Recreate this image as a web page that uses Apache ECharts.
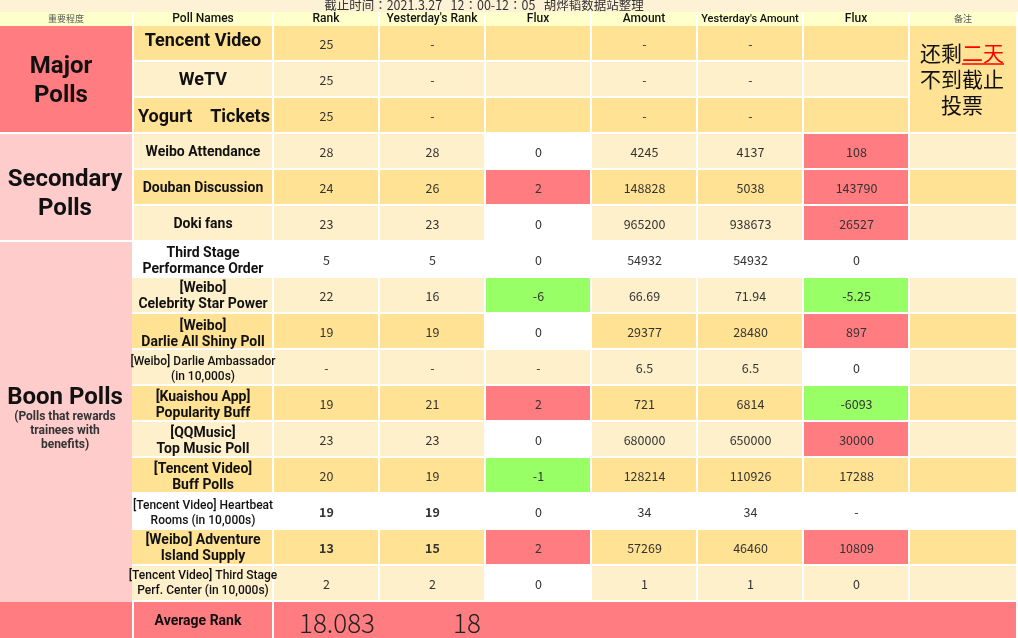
<!DOCTYPE html>
<html>
<head>
<meta charset="utf-8">
<style>
  html, body { margin: 0; padding: 0; background: #fff; }
  #chart { width: 1018px; height: 638px; }
</style>
<script src="https://cdn.jsdelivr.net/npm/echarts@6/dist/echarts.min.js"></script>
</head>
<body>
<div id="chart"></div>
<script>
// data
const title = "截止时间：2021.3.27   12：00-12：05   胡烨韬数据站整理";
const headers = ["重要程度", "Poll Names", "Rank", "Yesterday's Rank", "Flux", "Amount", "Yesterday's Amount", "Flux", "备注"];
const pollNames = [
  "Tencent Video", "WeTV", "Yogurt    Tickets",
  "Weibo Attendance", "Douban Discussion", "Doki fans",
  "Third Stage\nPerformance Order", "[Weibo]\nCelebrity Star Power", "[Weibo]\nDarlie All Shiny Poll",
  "[Weibo] Darlie Ambassador\n(in 10,000s)", "[Kuaishou App]\nPopularity Buff", "[QQMusic]\nTop Music Poll",
  "[Tencent Video]\nBuff Polls", "[Tencent Video] Heartbeat\nRooms (in 10,000s)", "[Weibo] Adventure\nIsland Supply",
  "[Tencent Video] Third Stage\nPerf. Center (in 10,000s)"
];
const rank = [25, 25, 25, 28, 24, 23, 5, 22, 19, "-", 19, 23, 20, 19, 13, 2];
const yesterdayRank = ["-", "-", "-", 28, 26, 23, 5, 16, 19, "-", 21, 23, 19, 19, 15, 2];
const rankFlux = ["", "", "", 0, 2, 0, 0, -6, 0, "-", 2, 0, -1, 0, 2, 0];
const amount = ["-", "-", "-", 4245, 148828, 965200, 54932, 66.69, 29377, 6.5, 721, 680000, 128214, 34, 57269, 1];
const yesterdayAmount = ["-", "-", "-", 4137, 5038, 938673, 54932, 71.94, 28480, 6.5, 6814, 650000, 110926, 34, 46460, 1];
const amountFlux = ["", "", "", 108, 143790, 26527, 0, -5.25, 897, 0, -6093, 30000, 17288, "-", 10809, 0];
const averageLabel = "Average Rank";
const averageRank = "18.083";
const averageYesterday = "18";

// layout and styles
const colEdges = [[0, 132], [134, 272], [274, 378], [380, 484], [486, 590], [592, 696], [698, 802], [804, 908], [910, 1016]];
const rowTops = [26, 62, 98, 134, 170, 206, 242, 278, 314, 350, 386, 422, 458, 494, 530, 566];
const rowHeight = 34;
const rowTones = ["d", "l", "d", "l", "d", "l", "w", "l", "d", "l", "d", "l", "d", "w", "d", "l"];
const nameSizes = [18, 18, 18, 14, 14, 14, 14, 14, 14, 12, 14, 14, 14, 12, 14, 12];
const nameShift = [-2, 1, 2, 1, 1, 1, 2, 1, 3, 2, 2, 2, 2, 2, 1, 0];
const plainAmountFlux = [12, 15];
const boldRankRows = [13, 14];
const tones = { d: "#FFE294", l: "#FFF0CC", w: "#FFFFFF" };
const RED = "#FF7C80", PINK = "#FFCCCC", GREEN = "#99FF66", HEAD = "#FFFFCC", BAND = "#FDF2D6";
const LATIN = "Roboto, 'Noto Sans CJK SC', sans-serif";
const NUM = "'Noto Sans CJK SC', 'Noto Sans', sans-serif";

const cells = [];
const labels = [];
const addCell = (x0, y0, x1, y1, fill) => cells.push({ x0, y0, x1, y1, fill });
const addLabel = (x, y, text, size, opts) =>
  labels.push(Object.assign({ x, y, text, size, family: LATIN, weight: "normal", color: "#222", line: size + 2 }, opts));

const colMid = c => (colEdges[c][0] + colEdges[c][1]) / 2;
const fluxFill = (v, tone) => {
  if (typeof v !== "number") return tones[tone];
  if (v > 0) return RED;
  if (v < 0) return GREEN;
  return "#FFFFFF";
};

// title band and header
addCell(0, 0, 1018, 12, BAND);
addLabel(484, 5, title, 12.5, { family: "'Noto Sans CJK TC', sans-serif", color: "#333" });
headers.forEach((h, c) => {
  addCell(colEdges[c][0], 12, colEdges[c][1], 26, HEAD);
  const zh = c === 0 || c === 8;
  addLabel(colMid(c), zh ? 19 : 19, h, zh ? 9 : (c === 6 ? 11 : 12), {
    family: zh ? NUM : LATIN,
    weight: zh ? "normal" : 500,
    color: zh ? "#555" : "#111"
  });
});

// group column
addCell(0, 26, 132, 132, RED);
addCell(0, 134, 132, 240, PINK);
addCell(0, 242, 132, 602, PINK);
addCell(0, 602, 132, 638, RED);
addLabel(61, 81, "Major\nPolls", 24, { weight: "bold", line: 29, color: "#111" });
addLabel(65, 194, "Secondary\nPolls", 24, { weight: "bold", line: 29, color: "#111" });
addLabel(65, 398, "Boon Polls", 24, { weight: "bold", color: "#111" });
addLabel(65, 431, "(Polls that rewards\ntrainees with\nbenefits)", 12, { weight: "bold", line: 14, color: "#333" });

// body rows
pollNames.forEach((name, r) => {
  const y0 = rowTops[r], y1 = y0 + rowHeight, mid = y0 + rowHeight / 2;
  const tone = rowTones[r];
  const values = [rank[r], yesterdayRank[r], rankFlux[r], amount[r], yesterdayAmount[r], amountFlux[r]];
  addCell(r > 5 ? 132 : colEdges[1][0], y0, colEdges[1][1], y1, tones[tone]);
  addLabel(colMid(1) + (r === 2 ? 1 : 0), mid + nameShift[r], name, nameSizes[r], {
    weight: nameSizes[r] === 12 ? 500 : "bold",
    line: nameSizes[r] === 12 ? 15 : (nameSizes[r] === 14 ? 16 : 20),
    color: "#111"
  });
  values.forEach((v, i) => {
    const c = i + 2;
    let fill = tones[tone];
    if (i === 2) fill = fluxFill(v, tone);
    if (i === 5 && !plainAmountFlux.includes(r)) fill = fluxFill(v, tone);
    addCell(colEdges[c][0], y0, colEdges[c][1], y1, fill);
    if (v !== "") {
      const bold = i < 2 && boldRankRows.includes(r);
      addLabel(colMid(c) + 0.5, mid + 1, String(v), 12.5, { family: NUM, weight: bold ? "bold" : "normal", color: "#333" });
    }
  });
  if (r > 2) addCell(colEdges[8][0], y0, colEdges[8][1], y1, tones[tone]);
});

// note cell
addCell(colEdges[8][0], 26, colEdges[8][1], 132, tones.d);
addLabel(962, 79, "还剩{r|二天}\n不到截止\n投票", 21, { family: NUM, line: 26, color: "#111", rich: true });

// average row
addCell(colEdges[1][0], 602, colEdges[1][1], 638, RED);
addCell(274, 602, 1016, 638, RED);
addLabel(198, 621, averageLabel, 14, { weight: "bold", color: "#111" });
addLabel(337, 623, averageRank, 26, { family: NUM, weight: 300, color: "#222" });
addLabel(467, 623, averageYesterday, 26, { family: NUM, weight: 300, color: "#222" });

const chart = echarts.init(document.getElementById("chart"), null, { renderer: "canvas" });

chart.setOption({
  animation: false,
  backgroundColor: "#fff",
  grid: { left: 0, right: 0, top: 0, bottom: 0 },
  xAxis: { type: "value", min: 0, max: 1018, show: false },
  yAxis: { type: "value", min: 0, max: 638, inverse: true, show: false },
  series: [
    {
      type: "custom",
      silent: true,
      clip: false,
      z: 1,
      data: cells.map(c => [c.x0, c.y0]),
      renderItem(params, api) {
        const c = cells[params.dataIndex];
        const a = api.coord([c.x0, c.y0]);
        const b = api.coord([c.x1, c.y1]);
        return {
          type: "rect",
          shape: { x: a[0], y: a[1], width: b[0] - a[0], height: b[1] - a[1] },
          style: { fill: c.fill }
        };
      }
    },
    {
      type: "custom",
      silent: true,
      clip: false,
      z: 2,
      data: labels.map(l => [l.x, l.y]),
      renderItem(params, api) {
        const l = labels[params.dataIndex];
        const p = api.coord([l.x, l.y]);
        const style = {
          text: l.text,
          fill: l.color,
          align: "center",
          verticalAlign: "middle",
          fontFamily: l.family,
          fontSize: l.size,
          fontWeight: l.weight,
          lineHeight: l.line
        };
        if (l.rich) {
          style.rich = { r: { fill: "#FF0000", fontSize: l.size, fontFamily: l.family, lineHeight: l.line } };
          const u0 = api.coord([962, 64]);
          const u1 = api.coord([1004, 64]);
          return {
            type: "group",
            children: [
              { type: "text", x: p[0], y: p[1], style },
              { type: "line", shape: { x1: u0[0], y1: u0[1], x2: u1[0], y2: u1[1] }, style: { stroke: "#FF0000", lineWidth: 1.5 } }
            ]
          };
        }
        return { type: "text", x: p[0], y: p[1], style };
      }
    }
  ]
});
</script>
</body>
</html>
